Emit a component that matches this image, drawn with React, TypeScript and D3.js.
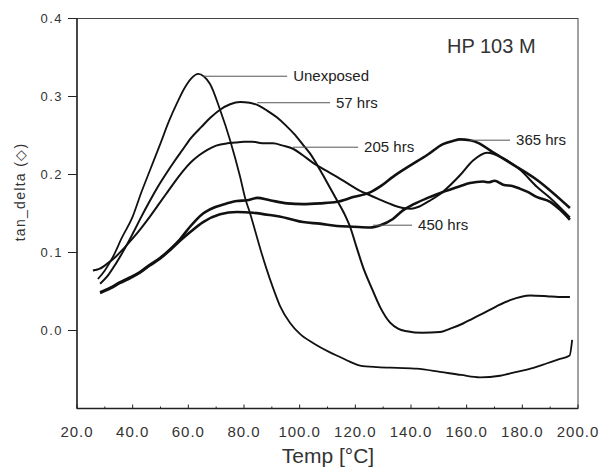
import React from 'react';
import * as d3 from 'd3';

// ---- data (Temp °C, tan_delta) ----
const unexposed: [number, number][] = [
  [27.5, 0.066], [30, 0.077], [33, 0.095], [36, 0.118], [40, 0.146], [43, 0.176],
  [46.5, 0.208], [50, 0.240], [53, 0.268], [56, 0.292], [58.5, 0.310], [61, 0.323],
  [63.6, 0.329], [65.5, 0.326], [67.8, 0.316], [71.4, 0.283], [75, 0.244], [78.6, 0.197],
  [80.4, 0.170], [82.2, 0.150], [84, 0.128], [86, 0.103], [88, 0.080], [90.4, 0.055],
  [93, 0.031], [96.5, 0.010], [100, -0.004], [104.8, -0.016], [110.9, -0.028], [114.5, -0.034],
  [118, -0.040], [121.7, -0.045], [128, -0.047], [135, -0.048], [142, -0.049], [150.4, -0.053],
  [158, -0.057], [164.8, -0.060], [172, -0.058], [178, -0.053], [184, -0.048], [188.9, -0.042],
  [193, -0.037], [197, -0.032], [197.9, -0.012],
];
const hrs57: [number, number][] = [
  [28.3, 0.060], [31, 0.070], [34, 0.086], [37, 0.104], [40, 0.124], [43, 0.145], [46, 0.165],
  [49, 0.184], [52, 0.201], [55, 0.217], [58, 0.232], [61, 0.247], [64.7, 0.261],
  [68, 0.273], [71.4, 0.283], [75, 0.290], [78.6, 0.293], [82, 0.292], [85.5, 0.288],
  [88.7, 0.281], [91.9, 0.273], [95, 0.263], [98, 0.252], [101, 0.239], [103.7, 0.227],
  [106.5, 0.211], [109.5, 0.192], [113.4, 0.167], [116, 0.150], [118.1, 0.133], [120.6, 0.105],
  [122.8, 0.081], [125.8, 0.055], [128.9, 0.030], [132.5, 0.010], [135.5, 0.002], [138.6, -0.001],
  [144, -0.003], [150.4, -0.002], [154.6, 0.003], [158.7, 0.009], [162, 0.015], [165.9, 0.022],
  [170.7, 0.031], [175.6, 0.039], [182.8, 0.045], [188.9, 0.044], [193, 0.043], [197.1, 0.043],
];
const hrs205: [number, number][] = [
  [25.7, 0.077], [28, 0.079], [31, 0.086], [34, 0.095], [37, 0.106], [40, 0.118], [43, 0.131],
  [46, 0.145], [49, 0.160], [52, 0.175], [55, 0.190], [58, 0.204], [61, 0.216], [64, 0.225],
  [67, 0.232], [70, 0.237], [74, 0.240], [77, 0.241], [80, 0.242], [83.2, 0.242], [86.5, 0.240],
  [90.4, 0.240], [94, 0.237], [97.6, 0.233], [101, 0.225], [104.8, 0.215], [109, 0.206],
  [113.4, 0.197], [117.5, 0.188], [121.7, 0.179], [124.2, 0.175], [128, 0.169], [132, 0.163],
  [137.1, 0.157], [140, 0.156], [143, 0.159], [147, 0.167], [151.5, 0.178], [157.6, 0.199],
  [162.3, 0.218], [167.3, 0.228], [173.1, 0.221], [179.2, 0.206], [185.3, 0.184], [190, 0.170],
  [197.1, 0.145],
];
const hrs365: [number, number][] = [
  [28.3, 0.049], [32, 0.055], [35.5, 0.062], [39, 0.068], [42.6, 0.075], [46, 0.084], [49.8, 0.093],
  [53.4, 0.104], [57, 0.117], [60.6, 0.133], [65.3, 0.150], [69.5, 0.158], [73.9, 0.163],
  [77.5, 0.166], [81.1, 0.167], [84.7, 0.170], [89.3, 0.167], [95.5, 0.163], [101.2, 0.162],
  [107.3, 0.163], [113.4, 0.165], [119.2, 0.171], [125.3, 0.177], [129.5, 0.186], [133.5, 0.197],
  [139.5, 0.211], [145.8, 0.225], [151.5, 0.239], [155, 0.243], [157.6, 0.245], [161.2, 0.244],
  [164.5, 0.240], [168.4, 0.231], [175.6, 0.215], [185.3, 0.193], [197.1, 0.157],
];
const hrs450: [number, number][] = [
  [28.3, 0.048], [32, 0.054], [35.5, 0.061], [39, 0.067], [42.6, 0.074], [46, 0.083], [49.8, 0.092],
  [53.4, 0.103], [57, 0.115], [60.6, 0.126], [65.3, 0.139], [71.4, 0.149], [77.5, 0.152],
  [83.2, 0.151], [89.3, 0.148], [95.5, 0.144], [101.2, 0.139], [107.3, 0.137], [113.4, 0.134],
  [119.2, 0.133], [125.3, 0.132], [129, 0.135], [133.5, 0.143], [137.1, 0.154], [141, 0.162],
  [146, 0.170], [151, 0.177], [157.6, 0.185], [161.2, 0.189], [165.9, 0.191], [168, 0.190],
  [170, 0.192], [173.1, 0.187], [176.7, 0.185], [179, 0.182], [181.7, 0.178], [185.3, 0.171],
  [190, 0.165], [193.5, 0.155], [197.1, 0.142],
];

const series = [unexposed, hrs57, hrs205, hrs365, hrs450];
const seriesWidths = [1.8, 2, 2, 2.6, 2.6];

const labelNames = ['Unexposed', '57 hrs', '205 hrs', '365 hrs', '450 hrs'];
// leader start T, leader end T, leader value
const labelFrom = [65.3, 84.7, 97.6, 161.2, 126.4];
const labelTo = [95.5, 110.9, 121.0, 175.6, 140.4];
const labelAt = [0.326, 0.292, 0.235, 0.244, 0.135];

const xTicks = [20, 40, 60, 80, 100, 120, 140, 160, 180, 200];
const xMinor = [30, 50, 70, 90, 110, 130, 150, 170, 190];
const yTicks = [0.0, 0.1, 0.2, 0.3, 0.4];

export default function App() {
  const W = 601, H = 471;
  const x = d3.scaleLinear().domain([20, 200]).range([77, 578]);
  const y = d3.scaleLinear().domain([-0.1, 0.4]).range([408.5, 18.5]);
  const line = d3.line<[number, number]>().x(d => x(d[0])).y(d => y(d[1])).curve(d3.curveMonotoneX);
  const font = "'Liberation Sans', Arial, sans-serif";
  const [x0, x1] = x.range();
  const [y0, y1] = y.range();

  return (
    <svg width={W} height={H} style={{ position: 'absolute', left: 0, top: 0, background: '#fff' }}
      fontFamily={font}>
      <rect x={0} y={0} width={W} height={H} fill="#fff" />
      {/* frame */}
      <rect x={x0} y={y1} width={x1 - x0} height={y0 - y1} fill="none" stroke="#444" strokeWidth={1} />
      <line x1={x0} x2={x0} y1={y1} y2={y0} stroke="#222" strokeWidth={1.4} />
      <line x1={x0} x2={x1} y1={y0} y2={y0} stroke="#222" strokeWidth={1.4} />
      {/* y ticks */}
      {yTicks.map(t => (
        <g key={'y' + t}>
          <line x1={x0 - 9} x2={x0} y1={y(t)} y2={y(t)} stroke="#222" strokeWidth={1} />
          <text x={63} y={y(t)} dy="0.35em" textAnchor="end" fontSize={13} letterSpacing={1.5} fill="#333">
            {t.toFixed(1)}
          </text>
        </g>
      ))}
      {/* x ticks */}
      {xTicks.map(t => (
        <g key={'x' + t}>
          <line x1={x(t)} x2={x(t)} y1={y0} y2={y0 - 4} stroke="#222" strokeWidth={1} />
          <text x={x(t)} y={437} textAnchor="middle" fontSize={15} letterSpacing={1} fill="#333">
            {t.toFixed(1)}
          </text>
        </g>
      ))}
      {xMinor.map(t => (
        <line key={'m' + t} x1={x(t)} x2={x(t)} y1={y0} y2={y0 - 2} stroke="#222" strokeWidth={1} />
      ))}
      {/* axis titles */}
      <text x={328} y={463} textAnchor="middle" fontSize={21} fill="#333">Temp [°C]</text>
      <text transform={`translate(20,192) rotate(-90)`} textAnchor="middle" dy="0.35em" fontSize={14}
        letterSpacing={1.3} fill="#333">tan_delta (◇)</text>
      <text x={447} y={53} fontSize={20} fill="#333">HP 103 M</text>
      {/* curves */}
      {series.map((s, i) => (
        <path key={'s' + i} d={line(s) || ''} fill="none" stroke="#111" strokeWidth={seriesWidths[i]}
          strokeLinejoin="round" />
      ))}
      {/* labels */}
      {labelNames.map((n, i) => (
        <g key={'l' + i}>
          <line x1={x(labelFrom[i])} x2={x(labelTo[i])} y1={y(labelAt[i])} y2={y(labelAt[i])}
            stroke="#555" strokeWidth={1} />
          <text x={x(labelTo[i]) + 6} y={y(labelAt[i]) + 5} fontSize={15} fill="#222">{n}</text>
        </g>
      ))}
    </svg>
  );
}
